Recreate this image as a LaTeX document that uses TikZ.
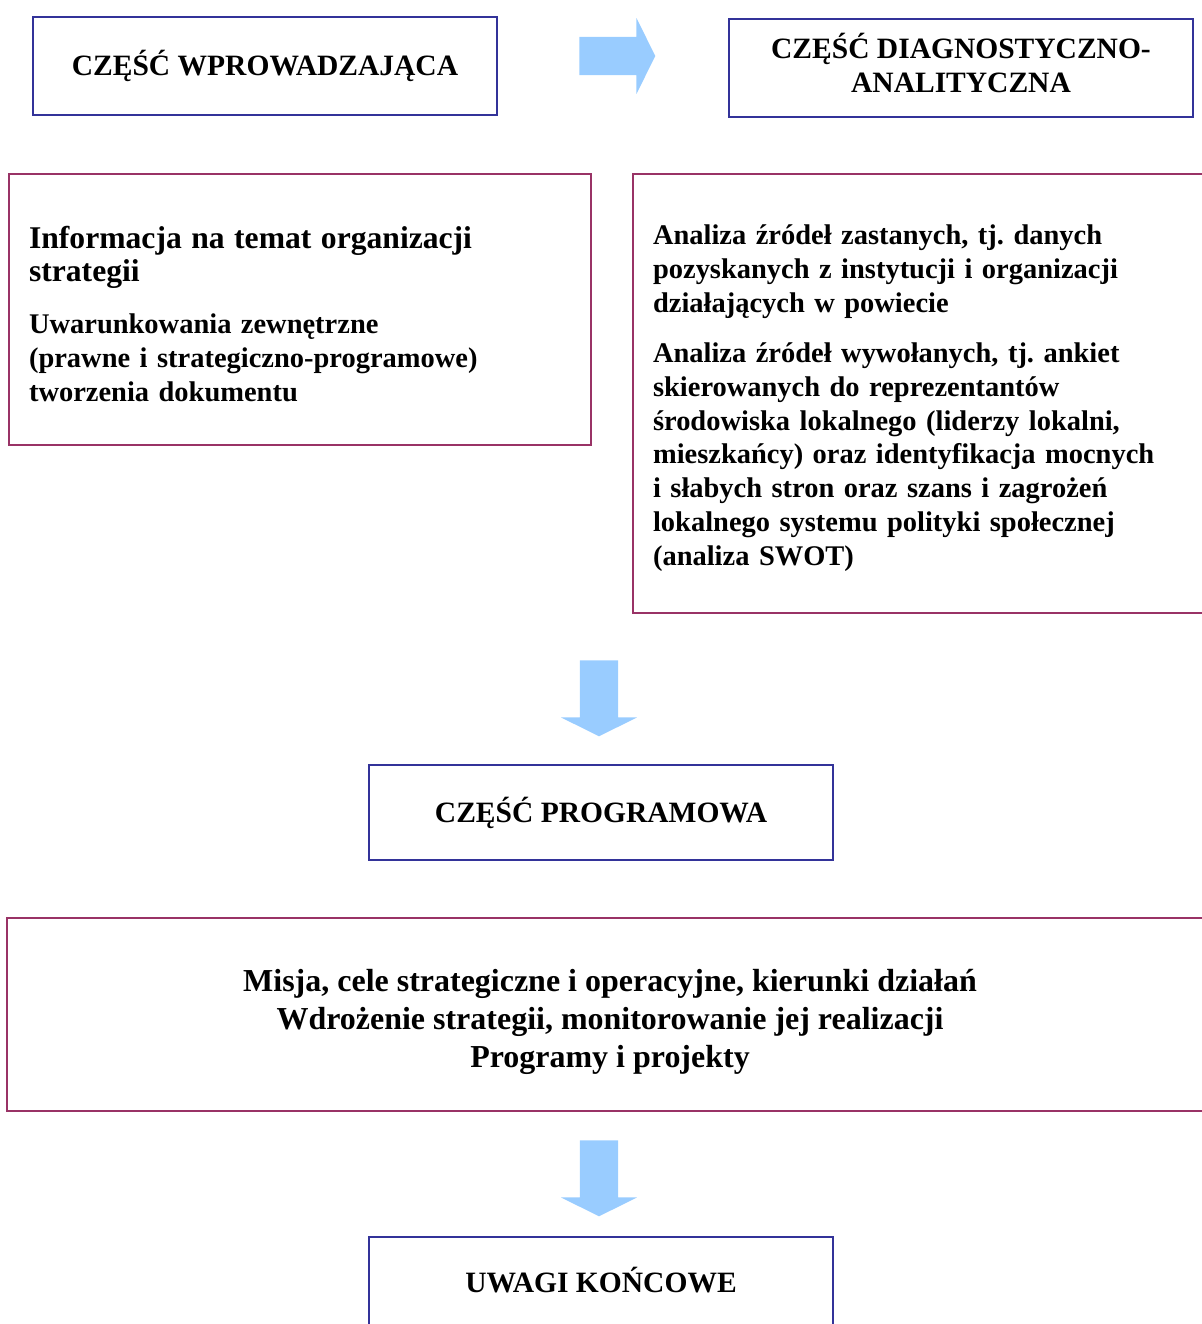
\documentclass[tikz,border=0pt]{standalone}
\usepackage{fontspec}
\setmainfont{Liberation Serif}
\usetikzlibrary{shapes.arrows}
\definecolor{BoxBlue}{RGB}{51, 51, 153}
\definecolor{BoxPlum}{RGB}{153, 51, 102}
\definecolor{ArrowSky}{RGB}{153, 204, 255}
\frenchspacing

\begin{document}
\begin{tikzpicture}[x=0.02cm, y=-0.02cm,
    partbox/.style={draw=BoxBlue, line width=1.1pt, minimum width=9.28cm, minimum height=1.96cm,
        align=center, font=\bfseries\fontsize{16.8}{20}\selectfont},
    infobox/.style={draw=BoxPlum, line width=1.1pt, inner xsep=0.4cm, text width=10.84cm,
        align=left, font=\bfseries\fontsize{16.2}{19.2}\selectfont},
    blockarrow/.style={single arrow, fill=ArrowSky, draw=none, inner xsep=0pt, inner ysep=0.375cm,
        minimum height=1.52cm, single arrow head extend=0.375cm, single arrow tip angle=127}]
    \useasboundingbox (0,0) rectangle (1202,1324);

    % Czesc wprowadzajaca i diagnostyczna
    \node[partbox] (intro) at (265,66) {\raisebox{2.2pt}{CZĘŚĆ WPROWADZAJĄCA}};
    \node[partbox] (diag) at (961,68)
        {\raisebox{3.4pt}{\begin{tabular}{@{}c@{}}CZĘŚĆ DIAGNOSTYCZNO-\\[-0.3pt]ANALITYCZNA\end{tabular}}};
    \node[blockarrow, anchor=tail] (arrIntro) at (579,56) {};

    % Tresc obu czesci
    \node[infobox, minimum height=5.42cm] (info) at (300,309.5)
        {{\fontsize{18}{21.5}\selectfont\rule{0pt}{17.5pt}Informacja na temat organizacji\\strategii}\\[10.5pt]
         Uwarunkowania zewnętrzne\\(prawne i strategiczno-programowe)\\tworzenia dokumentu};
    \node[infobox, minimum height=8.78cm] (analysis) at (924,393.5)
        {\rule{0pt}{16.5pt}Analiza źródeł zastanych, tj. danych\\pozyskanych z instytucji i organizacji\\działających w powiecie\\[9.5pt]
         Analiza źródeł wywołanych, tj. ankiet\\skierowanych do reprezentantów\\środowiska lokalnego (liderzy lokalni,\\mieszkańcy) oraz identyfikacja mocnych\\i słabych stron oraz szans i zagrożeń\\lokalnego systemu polityki społecznej\\(analiza SWOT)};
    \node[blockarrow, anchor=tail, rotate=-90] (arrProg) at (599,660) {};

    % Czesc programowa
    \node[partbox, minimum height=1.9cm] (prog) at (601,812.5) {\raisebox{2pt}{CZĘŚĆ PROGRAMOWA}};
    \node[draw=BoxPlum, line width=1.1pt, minimum width=24.12cm, minimum height=3.86cm, align=center,
        font=\bfseries\fontsize{18.2}{21.6}\selectfont] (mission) at (610,1014.5)
        {\rule{0pt}{21pt}Misja, cele strategiczne i operacyjne, kierunki działań\\Wdrożenie strategii, monitorowanie jej realizacji\\Programy i projekty};
    \node[blockarrow, anchor=tail, rotate=-90] (arrEnd) at (599,1140) {};

    % Uwagi koncowe
    \node[partbox, minimum height=1.9cm] (final) at (601,1284.5) {\raisebox{5pt}{UWAGI KOŃCOWE}};
\end{tikzpicture}
\end{document}
